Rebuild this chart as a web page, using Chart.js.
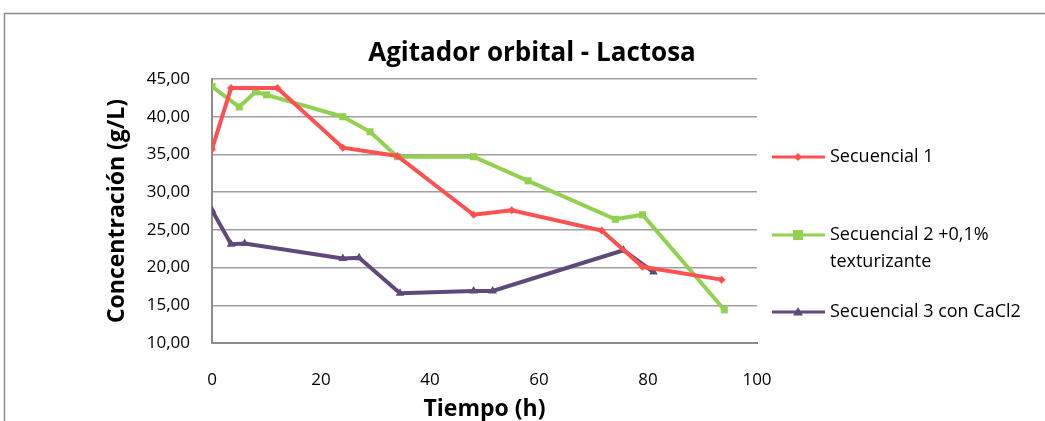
<!DOCTYPE html>
<html>
<head>
<meta charset="utf-8">
<script src="https://cdn.jsdelivr.net/npm/chart.js@4"></script>
<style>
  body { margin: 0; background: #fff; }
  #wrap { position: relative; width: 1045px; height: 421px; }
</style>
</head>
<body>
<div id="wrap"><canvas id="chart" width="1045" height="421"></canvas></div>
<script>
// data
const seriesNames = ['Secuencial 1', ['Secuencial 2 +0,1%', 'texturizante'], 'Secuencial 3 con CaCl2'];

const sec1Hours = [0, 3.5, 12, 24, 34, 48, 55, 71.5, 79, 93.5];
const sec1Conc = [35.7, 43.8, 43.8, 35.9, 34.8, 27.0, 27.6, 24.9, 20.1, 18.4];

const sec2Hours = [0, 5, 8, 10, 24, 29, 34, 48, 58, 74, 79, 94];
const sec2Conc = [44.0, 41.3, 43.3, 42.9, 40.0, 38.0, 34.7, 34.7, 31.5, 26.4, 27.0, 14.4];

const sec3Hours = [0, 3.5, 6, 24, 27, 34.5, 48, 51.5, 75.5, 81];
const sec3Conc = [27.6, 23.1, 23.2, 21.2, 21.3, 16.6, 16.9, 16.9, 22.3, 19.4];

const colors = ['#ff5050', '#92d050', '#5f497a'];
const markers = ['rectRot', 'rect', 'triangle'];
const markerSizes = [4, 5, 5];

const toPoints = (xs, ys) => xs.map((x, i) => ({ x: x, y: ys[i] }));

const fontFamily = "'Open Sans', 'Liberation Sans', sans-serif";

// frame, title and legend drawn on top of the chart
const decorations = {
  id: 'decorations',
  beforeDraw(chart) {
    const ctx = chart.ctx;
    ctx.save();
    ctx.strokeStyle = '#8c8c8c';
    ctx.lineWidth = 1.5;
    ctx.strokeRect(4.5, 13.5, 1100, 500);
    ctx.restore();
  },
  afterDraw(chart) {
    const ctx = chart.ctx;
    ctx.save();
    ctx.fillStyle = '#000';
    ctx.font = "bold 26px " + fontFamily;
    ctx.textAlign = 'center';
    ctx.textBaseline = 'middle';
    ctx.fillText('Agitador orbital - Lactosa', 532, 54);

    const rows = [157, 235, 312];
    ctx.font = "18px " + fontFamily;
    ctx.textAlign = 'left';
    chart.data.datasets.forEach((ds, i) => {
      const y = rows[i];
      ctx.strokeStyle = ds.borderColor;
      ctx.lineWidth = 3;
      ctx.beginPath();
      ctx.moveTo(772, y);
      ctx.lineTo(825, y);
      ctx.stroke();
      ctx.fillStyle = ds.borderColor;
      const r = markerSizes[i];
      ctx.beginPath();
      if (markers[i] === 'rectRot') {
        ctx.moveTo(798, y - r); ctx.lineTo(798 + r, y); ctx.lineTo(798, y + r); ctx.lineTo(798 - r, y);
      } else if (markers[i] === 'rect') {
        ctx.rect(798 - r, y - r, 2 * r, 2 * r);
      } else {
        ctx.moveTo(798, y - r); ctx.lineTo(798 + r, y + r * 0.7); ctx.lineTo(798 - r, y + r * 0.7);
      }
      ctx.fill();
      ctx.fillStyle = '#000';
      const lines = Array.isArray(ds.label) ? ds.label : [ds.label];
      lines.forEach((t, j) => ctx.fillText(t, 830, y + j * 27));
    });
    ctx.restore();
  }
};

const datasets = [
  toPoints(sec1Hours, sec1Conc),
  toPoints(sec2Hours, sec2Conc),
  toPoints(sec3Hours, sec3Conc)
].map((pts, i) => ({
  label: seriesNames[i],
  data: pts,
  borderColor: colors[i],
  backgroundColor: colors[i],
  borderWidth: 4,
  pointStyle: markers[i],
  pointRadius: markerSizes[i],
  pointBorderWidth: 0,
  tension: 0
}));

new Chart(document.getElementById('chart'), {
  type: 'line',
  data: { datasets: datasets },
  options: {
    responsive: false,
    animation: false,
    layout: { padding: { left: 104, right: 288, top: 79, bottom: 1 } },
    plugins: {
      legend: { display: false },
      tooltip: { enabled: false }
    },
    scales: {
      x: {
        type: 'linear',
        min: 0,
        max: 100,
        ticks: { stepSize: 20, color: '#000', padding: 27, font: { family: fontFamily, size: 17 } },
        grid: { display: false, drawTicks: false },
        border: { display: true, color: '#8c8c8c', width: 2 },
        title: { display: true, text: 'Tiempo (h)', color: '#000', padding: { top: 0, bottom: -3 }, font: { family: fontFamily, size: 23, weight: 'bold' } },
        afterFit: (scale) => { scale.height = 77; }
      },
      y: {
        min: 10,
        max: 45,
        ticks: {
          stepSize: 5,
          color: '#000',
          padding: 22,
          font: { family: fontFamily, size: 17 },
          callback: (v) => v.toFixed(2).replace('.', ',')
        },
        grid: { color: '#a0a0a0', lineWidth: 1.5, drawTicks: false },
        border: { display: true, color: '#8c8c8c', width: 2 },
        title: { display: true, text: 'Concentración (g/L)', color: '#000', padding: 0, font: { family: fontFamily, size: 23, weight: 'bold' } },
        afterFit: (scale) => { scale.width = 108; }
      }
    }
  },
  plugins: [decorations]
});
</script>
</body>
</html>
